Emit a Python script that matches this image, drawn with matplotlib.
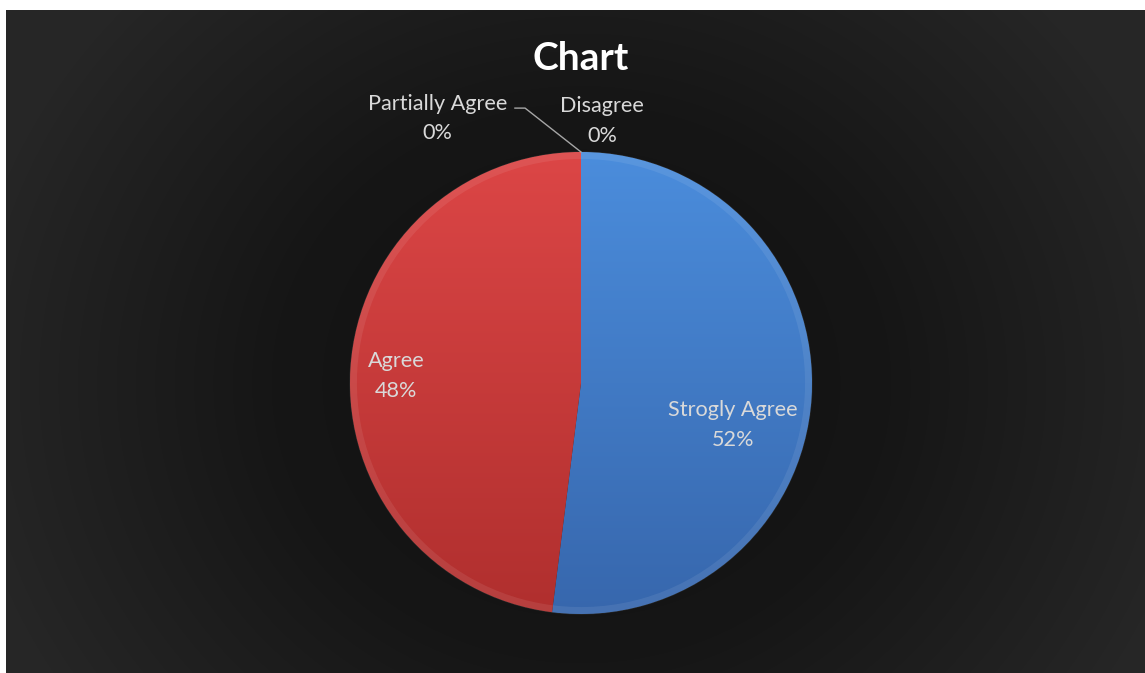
import matplotlib
matplotlib.use("Agg")
import matplotlib.pyplot as plt
import numpy as np
from matplotlib.colors import LinearSegmentedColormap
from matplotlib.patches import Wedge

# data
labels = ["Strogly Agree", "Agree", "Partially Agree", "Disagree"]
values = [52, 48, 0, 0]
pct_text = ["52%", "48%", "0%", "0%"]

BLUE_TOP, BLUE_BOT = "#4b8ddc", "#3767ad"
RED_TOP, RED_BOT = "#dc4646", "#b02f2e"
TEXT = "#d9d9d9"
FONT = "Lato"

W, H = 1145, 673
CX, CY, R = 581, 383, 231  # pie centre / radius in pixels

fig = plt.figure(figsize=(W / 100, H / 100), dpi=100)
fig.patch.set_facecolor("white")

# dark radial background
bg = fig.add_axes([6 / W, 0, 1 - 6 / W, 1 - 10 / H])
bg.set_axis_off()
yy, xx = np.mgrid[0:H - 10, 0:W - 6]
d = np.hypot((xx - (CX - 6)) / 620.0, (yy - (CY - 10)) / 560.0)
d = np.clip(d, 0, 1)
bg_cmap = LinearSegmentedColormap.from_list("bg", ["#101010", "#161616", "#262626"])
bg.imshow(d, cmap=bg_cmap, vmin=0, vmax=1, aspect="auto", interpolation="bilinear")

# pie axes: data units = pie radius, mapped 1:1 to pixels
ax = fig.add_axes([0, 0, 1, 1])
ax.set_axis_off()
ax.patch.set_alpha(0)

wedges, _ = ax.pie(values, startangle=90, counterclock=False, radius=1,
                   colors=[BLUE_TOP, RED_TOP, "#999999", "#777777"],
                   wedgeprops=dict(linewidth=0.8, edgecolor="#2a2a2a"))

grads = [(BLUE_TOP, BLUE_BOT), (RED_TOP, RED_BOT)]
for w, (top, bot) in zip(wedges[:2], grads):
    cm = LinearSegmentedColormap.from_list("g", [bot, top])
    g = np.linspace(0, 1, 256).reshape(-1, 1)
    im = ax.imshow(g, cmap=cm, extent=(-1, 1, -1, 1), origin="lower",
                   aspect="auto", zorder=w.get_zorder() + 0.1)
    im.set_clip_path(w)
    # soft lighter rim, like the bevel in the reference
    ax.add_patch(Wedge(w.center, w.r, w.theta1, w.theta2, width=0.03,
                       facecolor="white", alpha=0.08, edgecolor="none",
                       zorder=w.get_zorder() + 0.2))
ax.set_xlim(-CX / R, (W - CX) / R)
ax.set_ylim(-(H - CY) / R, CY / R)

# labels (positions chosen like Excel's best fit)
label_pos = [(0.658, -0.183), (-0.80, 0.03), (-0.62, 1.145), (0.091, 1.133)]
for name, pct, (x, y) in zip(labels, pct_text, label_pos):
    ax.text(x, y, f"{name}\n{pct}", ha="center", va="center", color=TEXT,
            fontsize=15.6, family=FONT, linespacing=1.6, zorder=10)

# leader line for the zero-size "Partially Agree" slice
w = wedges[2]
tx = np.cos(np.radians(w.theta1))
ty = np.sin(np.radians(w.theta1))
ax.plot([-0.286, -0.242, tx], [1.190, 1.190, ty], color="#a6a6a6", lw=1.0,
        zorder=9)

fig.text(CX / W, 1 - 58 / H, "Chart", ha="center", va="center", color="white",
         fontsize=28, fontweight="bold", family=FONT)

fig.savefig("out.png", dpi=100, facecolor=fig.get_facecolor())
